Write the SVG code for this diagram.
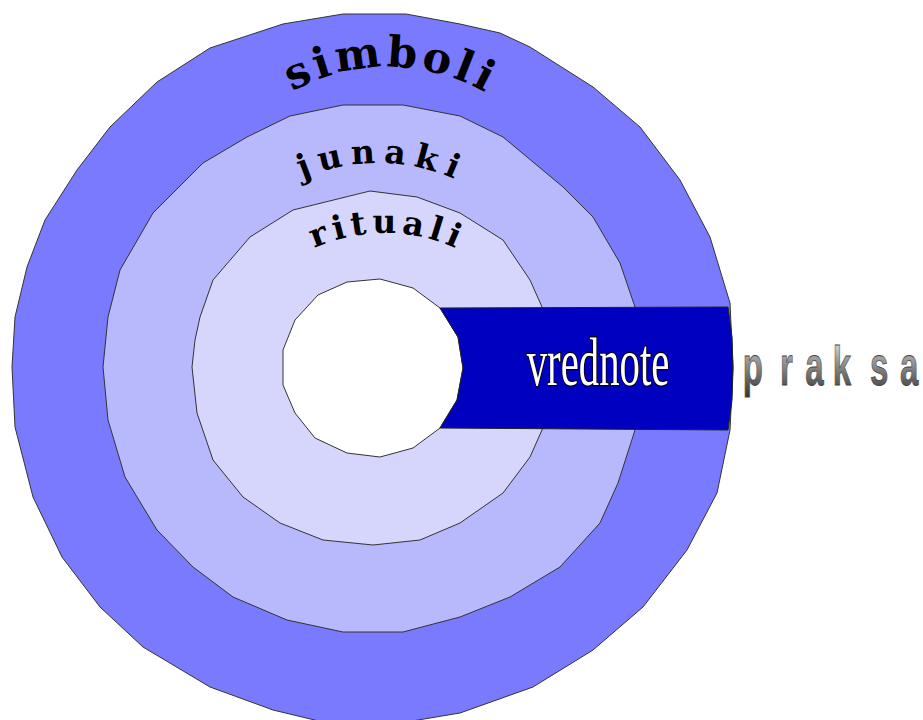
<svg xmlns="http://www.w3.org/2000/svg" width="923" height="720" viewBox="0 0 923 720">
<style>
.ring{stroke:#333;stroke-width:1;stroke-linejoin:round}
.arc{font-family:"DejaVu Serif","Liberation Serif",serif;font-weight:bold;fill:#000}
</style>
<defs>
<path id="pSim" d="M259.4,113.8 A200,200 0 0 1 516.6,113.8"/>
<path id="pJun" d="M255.9,207.5 A190,190 0 0 1 500.1,207.5"/>
<path id="pRit" d="M275.7,272.8 A170,170 0 0 1 494.3,272.8"/>
<linearGradient id="gPr" x1="0" y1="0" x2="0" y2="1">
<stop offset="0" stop-color="#f2f2f2"/>
<stop offset="0.4" stop-color="#9a9a9a"/>
<stop offset="1" stop-color="#333"/>
</linearGradient>
</defs>
<rect width="923" height="720" fill="#fff"/>
<g id="simboli">
<polygon class="ring" fill="#7a7aff" points="343,14 406,14 460,24 500,33 530,47 593,87 640,127 680,180 710,237 730,303 733,367 730,430 717,493 687,550 643,607 593,650 533,687 460,713 400,723 327,723 273,710 210,687 143,647 100,607 62,557 33,497 15,427 12,367 15,317 27,267 45,220 77,170 110,127 157,82 210,48 283,24"/>
<text class="arc" font-size="43" letter-spacing="4"><textPath href="#pSim" startOffset="51%" text-anchor="middle">simboli</textPath></text>
</g>
<g id="junaki">
<polygon class="ring" fill="#b8b8fc" points="343,105 403,105 460,116 503,137 563,187 593,217 620,263 635,307 643,367 635,430 618,483 600,523 560,567 510,597 460,617 403,632 343,632 287,620 233,597 193,567 157,530 125,477 108,420 103,367 108,317 120,270 153,213 203,163 247,137 290,116"/>
<text class="arc" font-size="33" letter-spacing="8"><textPath href="#pJun" startOffset="51.5%" text-anchor="middle">junaki</textPath></text>
</g>
<g id="rituali">
<polygon class="ring" fill="#d6d6fc" points="370,191 417,197 460,213 503,240 530,280 542,307 555,367 542,430 530,457 503,493 460,523 420,540 373,545 323,540 280,523 243,497 213,460 197,413 192,367 195,340 200,317 213,280 250,237 293,210"/>
<text class="arc" font-size="33" letter-spacing="5"><textPath href="#pRit" startOffset="51%" text-anchor="middle">rituali</textPath></text>
</g>
<g id="core">
<polygon class="ring" fill="#fff" points="380,279 413,288 440,308 458,337 463,368 457,400 440,428 413,448 380,457 347,453 315,438 295,413 283,385 283,350 295,320 318,295 347,282"/>
</g>
<g id="vrednote">
<path fill="#0000c0" stroke="#222" stroke-width="1" d="M440,308 L728,307 L732,337 L733,368 L732,400 L728,430 L440,428 L457,400 L463,368 L458,337 Z"/>
<text transform="translate(598,385) scale(0.6,1)" text-anchor="middle" font-family="Liberation Serif,serif" font-size="68" fill="#fff" stroke="#000" stroke-width="2.4" paint-order="stroke">vrednote</text>
</g>
<g id="praksa">
<text transform="translate(0,385) scale(0.6,1)" font-family="Liberation Sans,Arial,sans-serif" font-weight="bold" font-size="55" fill="url(#gPr)" stroke="#444" stroke-width="0.8" x="1238 1300 1342 1388 1450 1500">praksa</text>
</g>
</svg>
